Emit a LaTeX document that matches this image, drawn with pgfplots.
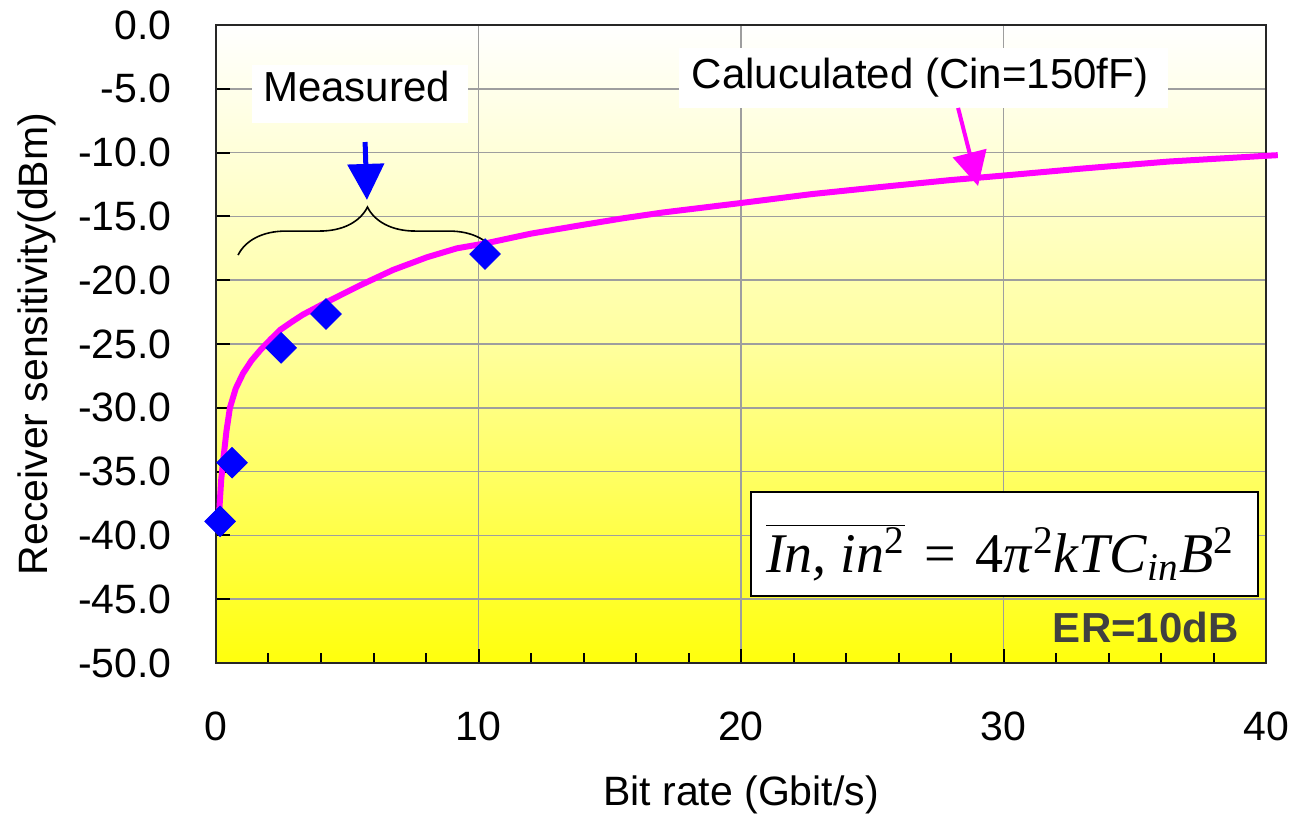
\documentclass[border=0pt]{standalone}
\usepackage{pgfplots}
\pgfplotsset{compat=1.18}
\usepackage{fontspec}
\setmainfont{Liberation Sans}
\newfontfamily\tms{Liberation Serif}
\usetikzlibrary{arrows.meta,decorations.pathreplacing}
\definecolor{mag}{RGB}{255,0,255}
\definecolor{blu}{RGB}{0,0,255}
\definecolor{yel}{RGB}{255,255,0}
\begin{document}
\begin{tikzpicture}
\path[use as bounding box] (-108pt,-77.5pt) rectangle (537pt,331.5pt);
\begin{axis}[
 at={(0,0)}, anchor=south west,
 scale only axis, width=525pt, height=319pt,
 xmin=0, xmax=40, ymin=-50, ymax=0,
 clip=false,
 axis background/.style={top color=white, bottom color=yel!95!white, middle color=yel!38!white},
 axis line style={black!85, line width=1.25pt},
 xtick={0,10,20,30,40}, xticklabels={0,10,20,30,40},
 minor xtick={2,4,...,38},
 ytick={-50,-45,...,0},
 yticklabels={-50.0,-45.0,-40.0,-35.0,-30.0,-25.0,-20.0,-15.0,-10.0,-5.0,0.0},
 xtick pos=bottom, ytick pos=left, tick align=inside,
 major tick length=7pt, minor tick length=5pt,
 every tick/.style={black, line width=1pt},
 xmajorgrids, ymajorgrids,
 major grid style={black!38, line width=0.75pt},
 ticklabel style={font=\fontsize{20.5pt}{24pt}\selectfont, inner sep=0pt},
 xticklabel style={anchor=north, yshift=-24pt},
 yticklabel style={anchor=east, xshift=-22pt},
 xlabel={Bit rate (Gbit/s)}, ylabel={Receiver sensitivity(dBm)},
 label style={font=\fontsize{20.5pt}{24pt}\selectfont, inner sep=0pt},
 xlabel style={at={(axis description cs:0.5,0)}, anchor=base, yshift=-71pt},
 ylabel style={at={(axis description cs:-0.16,0.5)}, anchor=base},
]
\addplot[mag, line width=3pt, line join=round] coordinates {
(0.1,-39.0) (0.15,-37.2) (0.2,-35.6) (0.27,-34.2) (0.4,-31.8) (0.53,-30.0)
(0.75,-28.5) (1.03,-27.3) (1.35,-26.3) (1.68,-25.5) (2.05,-24.7) (2.44,-23.9)
(2.9,-23.25) (3.31,-22.7) (4.23,-21.7) (5.49,-20.4) (6.74,-19.2) (8.04,-18.2)
(9.18,-17.5) (10.3,-17.1) (12,-16.35) (13.87,-15.7) (15.5,-15.15) (17.0,-14.7)
(20,-13.95) (22.7,-13.25) (25.3,-12.7) (28,-12.15) (30,-11.8) (33,-11.25)
(36.3,-10.7) (40,-10.25) (40.45,-10.2)};
\addplot[blu, only marks, mark=square*, mark size=5.4pt, mark options={rotate=45, fill=blu, draw=blu}] coordinates {
(0.155,-38.9) (0.61,-34.3) (2.48,-25.3) (4.19,-22.65) (10.25,-17.95)};
% annotations
\fill[white] (axis cs:1.371,-3.135) rectangle (axis cs:9.6,-7.68);
\node[anchor=base, inner sep=0pt, font=\fontsize{21pt}{24pt}\selectfont] at (axis cs:5.35,-6.03) {Measured};
\fill[white] (axis cs:17.64,-1.8) rectangle (axis cs:36.27,-6.5);
\node[anchor=base, inner sep=0pt, font=\fontsize{21pt}{24pt}\selectfont] at (axis cs:26.82,-4.94) {Caluculated (Cin=150fF)};
\draw[blu, line width=2.5pt, -{Triangle[width=18pt,length=18pt]}] (axis cs:5.68,-9.17) -- (axis cs:5.75,-13.71);
\draw[mag, line width=2pt, -{Triangle[width=17pt,length=17pt]}] (axis cs:28.27,-6.5) -- (axis cs:29.03,-12.62);
\draw[black, line width=0.8pt, decorate, decoration={brace, amplitude=24pt}] (axis cs:0.84,-18.03) -- (axis cs:10.70,-18.03);
\draw[black, line width=1pt, fill=white] (axis cs:20.38,-36.6) rectangle (axis cs:39.70,-44.75);
\node[anchor=base west, inner sep=0pt] at (axis cs:20.95,-42.87) {\fontsize{28pt}{34pt}\selectfont\tms $\overline{\mbox{\itshape In, in\textsuperscript{\upshape 2}}}$\hspace{0.35em}=\hspace{0.35em}4\textit{π}\textsuperscript{2}\textit{kTC}\textsubscript{\textit{in}}\textit{B}\textsuperscript{2}};
\node[anchor=base east, inner sep=0pt, font=\bfseries\fontsize{21pt}{24pt}\selectfont, text=black!75] at (axis cs:38.97,-48.43) {ER=10dB};
\end{axis}
\end{tikzpicture}
\end{document}
